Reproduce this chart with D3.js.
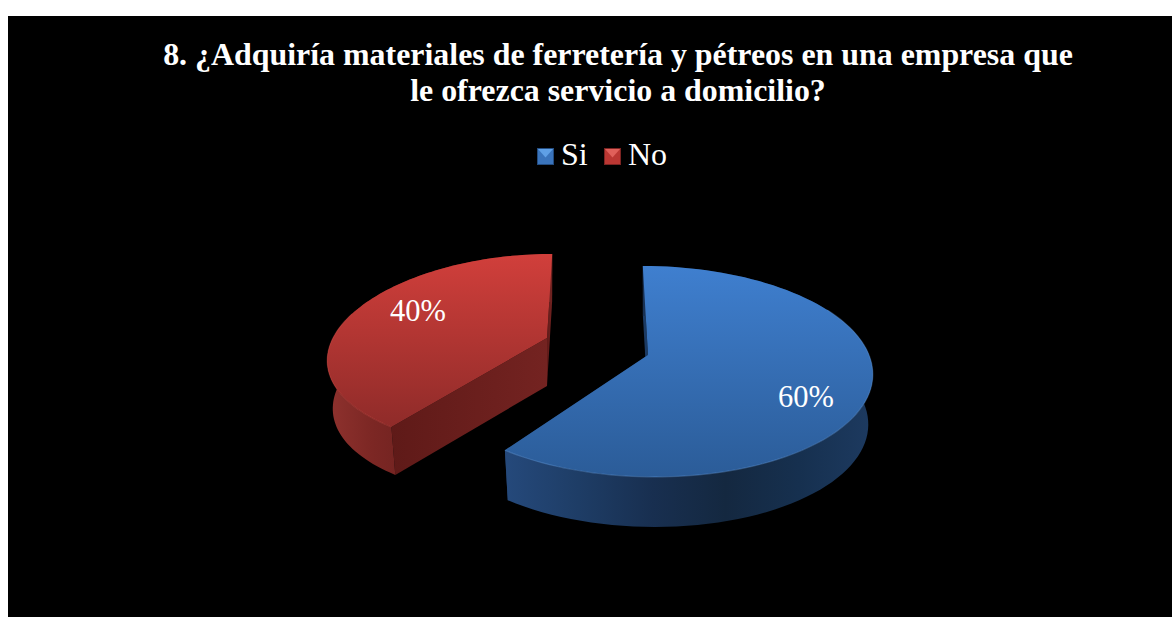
<!DOCTYPE html>
<html>
<head>
<meta charset="utf-8">
<script src="https://cdn.jsdelivr.net/npm/d3@7"></script>
<style>
  body { margin: 0; background: #fff; }
  svg { display: block; }
  text { font-family: "Liberation Serif", serif; fill: #fff; }
</style>
</head>
<body>
<svg id="chart" width="1172" height="617"></svg>
<script>
var titleLines = ["8. ¿Adquiría materiales de ferretería y pétreos en una empresa que", "le ofrezca servicio a domicilio?"];
var categories = ["Si", "No"];
var values = [60, 40];
var labels = ["60%", "40%"];

// how each slice sits on the page (exploded, tilted, with a bit of perspective)
var sliceLayout = [
  { cx: 648, cy: 355, rx: 221, ry: 102.9, k: 0.156, kx: 0.156, skew: -6, depth: 50, shrink: 0.98, labelX: 806, labelY: 396,
    top: ["#3f7fcf", "#2b5c98"], wall: ["#1b3a63", "#1b3a63"], rim: "rgba(105,160,225,0.35)", rimFrom: 62, rimTo: 216,
    side: ["#25497b", "#1e3d66", "#182f50", "#142840", "#16304f", "#1d3a60"] },
  { cx: 547, cy: 338, rx: 214, ry: 96.6, k: 0.15, kx: 0.2, skew: 6, depth: 48, shrink: 0.975, labelX: 418, labelY: 310,
    top: ["#d13f3b", "#8f2b29"], wall: ["#5f1a18", "#742321"], rim: "rgba(215,80,75,0.35)", rimFrom: 216, rimTo: 285,
    side: ["#8f322e", "#7c2724", "#6f2220", "#6f2220", "#6f2220", "#6f2220"] }
];
var legendColors = [
  { hi: "#5fa0e6", mid: "#3a74bc", lo: "#234c80" },
  { hi: "#e0605a", mid: "#bb3733", lo: "#7c2422" }
];

var svg = d3.select("#chart");
var defs = svg.append("defs");

svg.append("rect").attr("x", 8).attr("y", 16).attr("width", 1164).attr("height", 601).attr("fill", "#000");

// title
svg.selectAll(".title").data(titleLines).enter().append("text")
  .attr("class", "title")
  .attr("x", 618)
  .attr("y", function(d, i) { return 65 + i * 36; })
  .attr("text-anchor", "middle")
  .style("font-size", "31.9px")
  .style("font-weight", "bold")
  .text(function(d) { return d; });

// point on the tilted disc; angle in radians from 12 o'clock, f = radial fraction, z = 0 top / 1 bottom
function project(s, angle, f, z) {
  var u = Math.sin(angle) * f;
  var v = Math.cos(angle) * f;
  var w = 1 / (1 + s.k * v);
  var wx = 1 / (1 + s.kx * v);
  var scale = 1 - (1 - s.shrink) * z;
  return [
    s.cx + (s.rx * u * wx + s.skew * v * w) * scale,
    s.cy - s.ry * v * w + s.depth * z
  ];
}

function arcPoints(s, a0, a1, z) {
  var n = 90;
  return d3.range(n + 1).map(function(i) {
    return project(s, a0 + (a1 - a0) * i / n, 1, z);
  });
}

var line = d3.line();
var pie = d3.pie().sort(null).value(function(d) { return d; }).startAngle(0).endAngle(2 * Math.PI);
var arcs = pie(values);

function linearGrad(id, vertical, colors) {
  var g = defs.append("linearGradient").attr("id", id)
    .attr("x1", 0).attr("y1", 0)
    .attr("x2", vertical ? 0 : 1).attr("y2", vertical ? 1 : 0);
  g.selectAll("stop").data(colors).enter().append("stop")
    .attr("offset", function(d, i) { return i / (colors.length - 1); })
    .attr("stop-color", function(d) { return d; });
}

var slices = svg.selectAll(".slice").data(arcs).enter().append("g").attr("class", "slice");

slices.each(function(d, i) {
  var s = sliceLayout[i];
  var g = d3.select(this);
  var a0 = d.startAngle, a1 = d.endAngle;

  linearGrad("top" + i, true, s.top);
  linearGrad("side" + i, false, s.side);
  linearGrad("wall" + i, false, s.wall);

  // the two cut faces
  [a0, a1].forEach(function(a) {
    g.append("path")
      .attr("d", line([project(s, a, 1, 0), project(s, a, 0, 0), project(s, a, 0, 1), project(s, a, 1, 1)]) + "Z")
      .attr("fill", "url(#wall" + i + ")");
  });

  // outer band
  g.append("path")
    .attr("d", line(arcPoints(s, a0, a1, 0).concat(arcPoints(s, a0, a1, 1).reverse())) + "Z")
    .attr("fill", "url(#side" + i + ")");

  // top face
  g.append("path")
    .attr("d", line([project(s, 0, 0, 0)].concat(arcPoints(s, a0, a1, 0))) + "Z")
    .attr("fill", "url(#top" + i + ")");

  // light rim along the near edge
  g.append("path")
    .attr("d", line(arcPoints(s, s.rimFrom * Math.PI / 180, s.rimTo * Math.PI / 180, 0)))
    .attr("fill", "none")
    .attr("stroke", s.rim)
    .attr("stroke-width", 1.2);

  g.append("text")
    .attr("x", s.labelX)
    .attr("y", s.labelY)
    .attr("dy", "0.35em")
    .attr("text-anchor", "middle")
    .style("font-size", "30.5px")
    .text(labels[i]);
});

// legend
var legendX = [537, 604];
var legendTextX = [561, 628];
var box = 17;
var legend = svg.selectAll(".legend").data(categories).enter().append("g").attr("class", "legend")
  .attr("transform", function(d, i) { return "translate(" + legendX[i] + ",148)"; });

legend.each(function(d, i) {
  var g = d3.select(this);
  var c = legendColors[i];
  var m = box / 2;
  g.append("rect").attr("x", 0.5).attr("y", 0.5).attr("width", box - 1).attr("height", box - 1)
    .attr("fill", c.mid).attr("stroke", c.lo);
  g.append("path").attr("d", line([[1, 1], [box - 1, 1], [m, m + 1]]) + "Z").attr("fill", c.hi);
  g.append("text")
    .attr("x", legendTextX[i] - legendX[i])
    .attr("y", 17)
    .style("font-size", "32px")
    .text(d);
});
</script>
</body>
</html>
